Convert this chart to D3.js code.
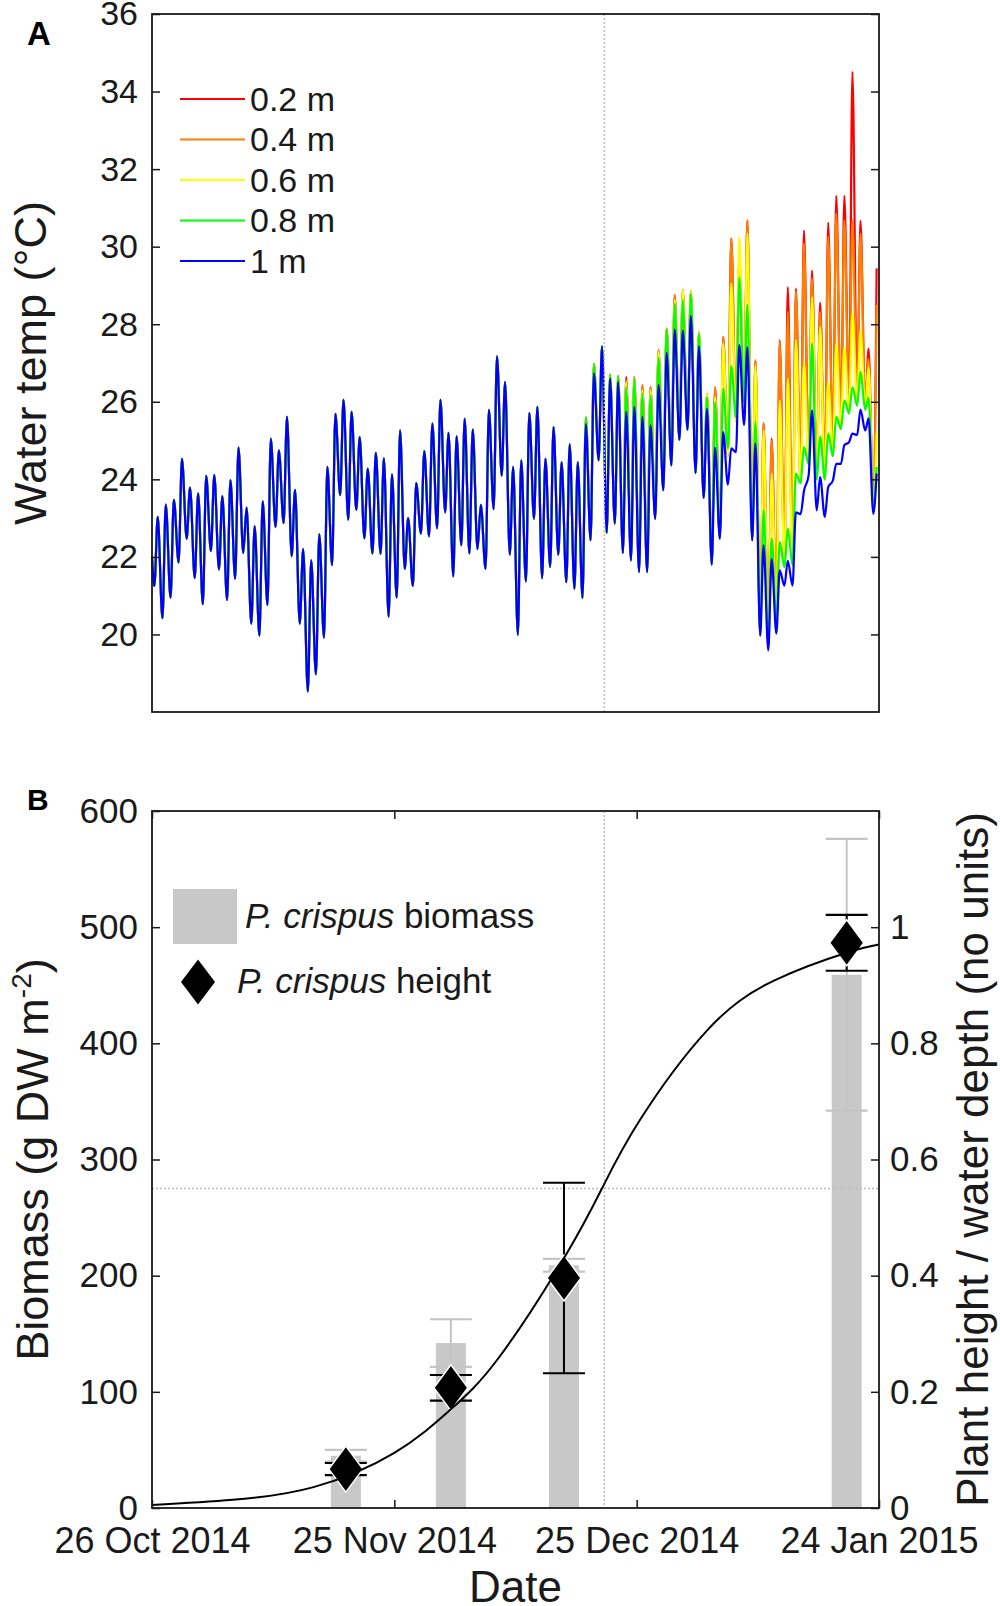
<!DOCTYPE html>
<html>
<head>
<meta charset="utf-8">
<script src="https://cdnjs.cloudflare.com/ajax/libs/d3/7.8.5/d3.min.js"></script>
<style>
  body { margin: 0; background: #fff; }
  svg { display: block; }
</style>
</head>
<body>
<svg id="chart" width="1000" height="1606"></svg>
<script>
const FONT = "'Liberation Sans', Arial, Helvetica, sans-serif";
const DAY = 864e5;
const startDate = Date.UTC(2014, 9, 26);
const endDate = Date.UTC(2015, 0, 24);
const day = d => new Date(startDate + d * DAY);

// ---------- panel A data: daily trough / peak water temperature (°C) ----------
const depths = ["0.2 m", "0.4 m", "0.6 m", "0.8 m", "1 m"];
const depthColors = ["#ff0000", "#ff7f00", "#ffff00", "#00ff00", "#0000ff"];
const troughHour = 7;
const peakHour = 17;
const tempStart = 22.0;
const tempTicks = [20, 22, 24, 26, 28, 30, 32, 34, 36];

// days 0-52: all depths read the same
const sharedMin = [21.25, 20.42, 20.95, 21.86, 22.47, 21.45, 20.78, 22.15, 21.68, 20.89,
  21.44, 22.1, 20.28, 19.97, 20.76, 22.77, 22.87, 22.02, 20.28, 18.53,
  18.97, 19.92, 21.79, 23.59, 22.96, 23.21, 22.48, 22.09, 22.08, 20.46,
  20.95, 21.69, 21.25, 22.6, 22.53, 22.74, 23.15, 21.5, 22.3, 22.09,
  22.2, 21.69, 23.23, 24.1, 22.06, 19.99, 21.37, 22.98, 21.45, 21.74,
  22.06, 21.35, 21.18];
const sharedMax = [23.03, 23.35, 23.47, 24.53, 23.79, 23.64, 24.09, 24.11, 23.57, 23.98,
  24.82, 23.27, 22.79, 23.43, 25.05, 24.75, 25.61, 23.73, 22.2, 21.91,
  22.58, 24.32, 25.69, 26.05, 25.74, 25.09, 24.28, 24.68, 24.54, 24.13,
  25.26, 23.0, 23.9, 24.73, 25.44, 26.05, 25.2, 25.11, 25.56, 25.28,
  23.34, 25.79, 27.17, 26.51, 24.32, 24.49, 25.71, 25.87, 24.53, 25.35,
  24.44, 24.9, 24.44];

// days 53-89, per depth
const min10 = [20.94, 22.43, 24.49, 22.62, 22.86, 22.1, 21.91, 21.61, 21.61, 22.98,
  23.72, 24.36, 25.02, 25.28, 24.16, 23.52, 21.8, 22.47, 23.86, 24.7,
  25.4, 22.43, 19.97, 19.59, 20.02, 21.26, 21.26, 23.1, 24.1, 23.2,
  23.03, 23.97, 24.4, 24.96, 25.14, 25.26, 23.11];
const max10 = [25.42, 26.73, 27.43, 26.6, 26.51, 25.74, 25.87, 25.61, 25.39, 26.43,
  27.26, 27.86, 27.83, 28.21, 27.43, 25.82, 24.82, 25.22, 24.8, 27.46,
  27.41, 24.92, 22.3, 21.95, 21.65, 21.9, 23.15, 23.7, 25.78, 24.06,
  23.8, 24.4, 24.88, 25.18, 25.8, 25.57, 24.15];
const min08 = [20.94, 22.43, 24.49, 22.62, 22.86, 22.1, 21.91, 21.61, 21.61, 22.98,
  23.72, 24.36, 25.02, 25.28, 24.16, 23.52, 21.8, 22.47, 24.8, 25.6,
  26.0, 22.43, 19.97, 19.7, 20.3, 21.74, 21.8, 23.9, 24.4, 24.0,
  24.0, 24.6, 25.3, 25.7, 25.9, 25.8, 23.28];
const max08 = [25.6, 26.98, 27.43, 26.7, 26.67, 26.38, 26.6, 26.21, 26.17, 27.14,
  27.86, 28.53, 28.62, 28.79, 27.76, 26.12, 25.99, 26.34, 26.92, 29.2,
  28.5, 25.48, 23.2, 22.47, 22.38, 22.73, 24.15, 24.83, 27.5, 25.1,
  25.18, 25.61, 26.04, 26.38, 26.77, 26.1, 24.32];
// troughs of the three shallow loggers
const minShallow = [20.94, 22.43, 24.49, 22.62, 22.86, 22.1, 21.91, 21.61, 21.61, 22.98,
  23.72, 24.36, 25.02, 25.28, 24.16, 23.52, 21.8, 22.47, 24.6, 25.5,
  25.8, 22.43, 19.97, 19.7, 20.3, 21.74, 21.8, 23.9, 24.4, 24.0,
  24.0, 24.6, 25.3, 25.7, 25.9, 25.8, 23.28];
const max06 = [25.6, 26.98, 27.43, 26.7, 26.67, 26.51, 26.62, 26.3, 26.3, 27.29,
  27.87, 28.62, 28.88, 28.85, 27.8, 26.2, 26.12, 27.5, 29.05, 30.25,
  30.34, 26.94, 25.26, 24.15, 26.04, 26.6, 27.6, 27.0, 28.7, 27.93,
  26.5, 27.5, 27.4, 28.27, 27.85, 26.9, 25.2];
const max04 = [25.6, 26.98, 27.43, 26.7, 26.67, 26.55, 26.64, 26.43, 26.38, 27.33,
  27.89, 28.75, 28.88, 28.85, 27.8, 26.2, 26.37, 27.67, 30.21, 29.65,
  30.68, 27.07, 25.45, 25.0, 27.56, 28.32, 28.85, 30.08, 29.18, 28.32,
  30.25, 30.85, 30.68, 30.68, 30.34, 27.11, 28.5];
const max02 = [25.6, 26.98, 27.43, 26.7, 26.67, 26.64, 26.64, 26.43, 26.38, 27.33,
  27.89, 28.75, 28.88, 28.85, 27.8, 26.2, 26.37, 27.67, 30.21, 29.7,
  30.68, 27.07, 25.45, 25.05, 27.59, 28.96, 28.92, 30.42, 29.38, 28.56,
  30.62, 31.31, 31.31, 34.51, 30.67, 27.37, 29.44];

const depthMin = [minShallow, minShallow, minShallow, min08, min10];
const depthMax = [max02, max04, max06, max08, max10];

// ---------- panel B data ----------
const sampleDays = [24, 37, 51, 86];
const biomass = [45, 142, 209, 459];
const biomassSE = [5, 20.5, 5.5, 117];
const heightRatio = [0.067, 0.207, 0.396, 0.973];
const heightSE = [0.0105, 0.022, 0.164, 0.048];
const fitDays = [0, 10, 20, 30, 37, 43, 51, 55.7, 60.4, 68.7, 77, 86, 90];
const fitRatio = [0.005, 0.014, 0.036, 0.095, 0.17, 0.26, 0.43, 0.55, 0.668, 0.822, 0.908, 0.956, 0.97];
const markerDate = Date.UTC(2014, 11, 21);
const markerRatio = 0.55;
const dateTicks = [Date.UTC(2014, 9, 26), Date.UTC(2014, 10, 25), Date.UTC(2014, 11, 25), Date.UTC(2015, 0, 24)];
const biomassTicks = [0, 100, 200, 300, 400, 500, 600];
const ratioTicks = [0, 0.2, 0.4, 0.6, 0.8, 1];

const svg = d3.select("#chart").attr("font-family", FONT);
const L = 152, R = 879;
const A = { top: 14, bottom: 712 };
const B = { top: 811, bottom: 1508 };

const x = d3.scaleUtc().domain([startDate, endDate]).range([L, R]);

function styleAxis(g, size) {
  g.attr("font-family", FONT).attr("font-size", size).style("color", "#1a1a1a");
  g.select(".domain").remove();
  g.selectAll(".tick line").attr("stroke-width", 1.5);
}

// ================= Panel A =================
const yTemp = d3.scaleLinear().domain([18, 36]).range([A.bottom, A.top]);

function buildSeries(mins, maxs) {
  const pts = [{ t: day(0), v: tempStart }];
  mins.forEach((m, k) => {
    pts.push({ t: day(k + troughHour / 24), v: m });
    pts.push({ t: day(k + peakHour / 24), v: maxs[k] });
  });
  return pts;
}

const tempLine = d3.line()
  .x(d => x(d.t))
  .y(d => yTemp(d.v))
  .curve(d3.curveMonotoneX);

const gA = svg.append("g");
depths.forEach((name, i) => {
  const pts = buildSeries(sharedMin.concat(depthMin[i]), sharedMax.concat(depthMax[i]));
  gA.append("path")
    .datum(pts)
    .attr("fill", "none")
    .attr("stroke", depthColors[i])
    .attr("stroke-width", 2.2)
    .attr("stroke-linejoin", "round")
    .attr("d", tempLine);
});

// dotted date marker
gA.append("line")
  .attr("x1", x(markerDate)).attr("x2", x(markerDate))
  .attr("y1", A.top).attr("y2", A.bottom)
  .attr("stroke", "#bbbbbb").attr("stroke-width", 1.5).attr("stroke-dasharray", "2,2");

gA.append("g")
  .attr("transform", `translate(${L},0)`)
  .call(d3.axisLeft(yTemp).tickValues(tempTicks).tickSizeInner(-8).tickSizeOuter(0).tickPadding(14))
  .call(g => styleAxis(g, 34));

gA.append("g")
  .attr("transform", `translate(${R},0)`)
  .call(d3.axisRight(yTemp).tickValues(tempTicks).tickSizeInner(-8).tickSizeOuter(0).tickFormat(""))
  .call(g => styleAxis(g, 34));

gA.append("rect")
  .attr("x", L).attr("y", A.top)
  .attr("width", R - L).attr("height", A.bottom - A.top)
  .attr("fill", "none").attr("stroke", "#1a1a1a").attr("stroke-width", 1.8);

// legend
const legA = gA.append("g");
depths.forEach((name, i) => {
  const yy = 99 + i * 40.5;
  legA.append("line")
    .attr("x1", 180).attr("x2", 245)
    .attr("y1", yy).attr("y2", yy)
    .attr("stroke", depthColors[i]).attr("stroke-width", 2);
  legA.append("text")
    .attr("x", 250).attr("y", yy).attr("dy", "0.35em")
    .attr("font-size", 34).attr("fill", "#1a1a1a")
    .text(name);
});

gA.append("text")
  .attr("transform", `translate(46,${(A.top + A.bottom) / 2}) rotate(-90)`)
  .attr("text-anchor", "middle").attr("font-size", 45).attr("fill", "#1a1a1a")
  .text("Water temp (°C)");

svg.append("text")
  .attr("x", 27).attr("y", 45)
  .attr("font-size", 33).attr("font-weight", "bold").attr("fill", "#000")
  .text("A");

// ================= Panel B =================
const yBio = d3.scaleLinear().domain([0, 600]).range([B.bottom, B.top]);
const yRatio = d3.scaleLinear().domain([0, 1.2]).range([B.bottom, B.top]);
const gB = svg.append("g");
const barW = 30, capW = 42;

// bars
gB.selectAll(".bar")
  .data(sampleDays)
  .join("rect")
  .attr("class", "bar")
  .attr("x", (d) => x(day(d)) - barW / 2)
  .attr("y", (d, i) => yBio(biomass[i]))
  .attr("width", barW)
  .attr("height", (d, i) => yBio(0) - yBio(biomass[i]))
  .attr("fill", "#c8c8c8");

function errorBars(g, days, vals, errs, scale, color) {
  days.forEach((d, i) => {
    const cx = x(day(d));
    const lo = scale(vals[i] - errs[i]), hi = scale(vals[i] + errs[i]);
    g.append("line").attr("x1", cx).attr("x2", cx).attr("y1", lo).attr("y2", hi)
      .attr("stroke", color).attr("stroke-width", 2);
    [lo, hi].forEach(yy => g.append("line")
      .attr("x1", cx - capW / 2).attr("x2", cx + capW / 2)
      .attr("y1", yy).attr("y2", yy)
      .attr("stroke", color).attr("stroke-width", 2.2));
  });
}

errorBars(gB, sampleDays, biomass, biomassSE, yBio, "#c4c4c4");

// dotted markers
gB.append("line")
  .attr("x1", x(markerDate)).attr("x2", x(markerDate))
  .attr("y1", B.top).attr("y2", B.bottom)
  .attr("stroke", "#bbbbbb").attr("stroke-width", 1.5).attr("stroke-dasharray", "2,2");
gB.append("line")
  .attr("x1", L).attr("x2", R)
  .attr("y1", yRatio(markerRatio)).attr("y2", yRatio(markerRatio))
  .attr("stroke", "#bbbbbb").attr("stroke-width", 1.5).attr("stroke-dasharray", "2,2");

errorBars(gB, sampleDays, heightRatio, heightSE, yRatio, "#000");

const diamond = "M0,-23L17,0L0,23L-17,0Z";
gB.selectAll(".dia")
  .data(sampleDays)
  .join("path")
  .attr("class", "dia")
  .attr("transform", (d, i) => `translate(${x(day(d))},${yRatio(heightRatio[i])})`)
  .attr("d", diamond)
  .attr("fill", "#000").attr("stroke", "#fff").attr("stroke-width", 1.5);

// fitted curve
const fitLine = d3.line()
  .x(d => x(day(d)))
  .y((d, i) => yRatio(fitRatio[i]))
  .curve(d3.curveNatural);
gB.append("path")
  .datum(fitDays)
  .attr("fill", "none").attr("stroke", "#000").attr("stroke-width", 2)
  .attr("d", fitLine);

// axes
gB.append("g")
  .attr("transform", `translate(${L},0)`)
  .call(d3.axisLeft(yBio).tickValues(biomassTicks).tickSizeInner(-8).tickSizeOuter(0).tickPadding(14))
  .call(g => styleAxis(g, 35));

gB.append("g")
  .attr("transform", `translate(${R},0)`)
  .call(d3.axisRight(yRatio).tickValues(ratioTicks).tickSizeInner(-8).tickSizeOuter(0).tickPadding(11).tickFormat(d3.format("~g")))
  .call(g => styleAxis(g, 35));

gB.append("g")
  .attr("transform", `translate(0,${B.bottom})`)
  .call(d3.axisBottom(x).tickValues(dateTicks.map(d => new Date(d))).tickSizeInner(-8).tickSizeOuter(0).tickPadding(19).tickFormat(d3.utcFormat("%-d %b %Y")))
  .call(g => styleAxis(g, 36));

gB.append("g")
  .attr("transform", `translate(0,${B.top})`)
  .call(d3.axisTop(x).tickValues(dateTicks.map(d => new Date(d))).tickSizeInner(-8).tickSizeOuter(0).tickFormat(""))
  .call(g => styleAxis(g, 36));

gB.append("rect")
  .attr("x", L).attr("y", B.top)
  .attr("width", R - L).attr("height", B.bottom - B.top)
  .attr("fill", "none").attr("stroke", "#1a1a1a").attr("stroke-width", 1.8);

// legend
gB.append("rect")
  .attr("x", 173).attr("y", 889).attr("width", 64).attr("height", 55)
  .attr("fill", "#c8c8c8");
const t1 = gB.append("text").attr("x", 245).attr("y", 928).attr("font-size", 35).attr("fill", "#1a1a1a");
t1.append("tspan").attr("font-style", "italic").text("P. crispus");
t1.append("tspan").text(" biomass");
gB.append("path")
  .attr("transform", "translate(198,982)")
  .attr("d", "M0,-22.5L17,0L0,22.5L-17,0Z")
  .attr("fill", "#000");
const t2 = gB.append("text").attr("x", 237).attr("y", 993).attr("font-size", 35).attr("fill", "#1a1a1a");
t2.append("tspan").attr("font-style", "italic").text("P. crispus");
t2.append("tspan").text(" height");

// axis titles
const bioTitle = gB.append("text")
  .attr("transform", `translate(48,${(B.top + B.bottom) / 2}) rotate(-90)`)
  .attr("text-anchor", "middle").attr("font-size", 45).attr("fill", "#1a1a1a");
bioTitle.append("tspan").text("Biomass (g DW m");
bioTitle.append("tspan").attr("font-size", 28).attr("dy", -17).text("-2");
bioTitle.append("tspan").attr("dy", 17).text(")");

gB.append("text")
  .attr("transform", `translate(988,${(B.top + B.bottom) / 2}) rotate(-90)`)
  .attr("text-anchor", "middle").attr("font-size", 44).attr("fill", "#1a1a1a")
  .text("Plant height / water depth (no units)");

gB.append("text")
  .attr("x", (L + R) / 2).attr("y", 1602)
  .attr("text-anchor", "middle").attr("font-size", 44).attr("fill", "#1a1a1a")
  .text("Date");

svg.append("text")
  .attr("x", 27).attr("y", 810)
  .attr("font-size", 30).attr("font-weight", "bold").attr("fill", "#000")
  .text("B");
</script>
</body>
</html>
